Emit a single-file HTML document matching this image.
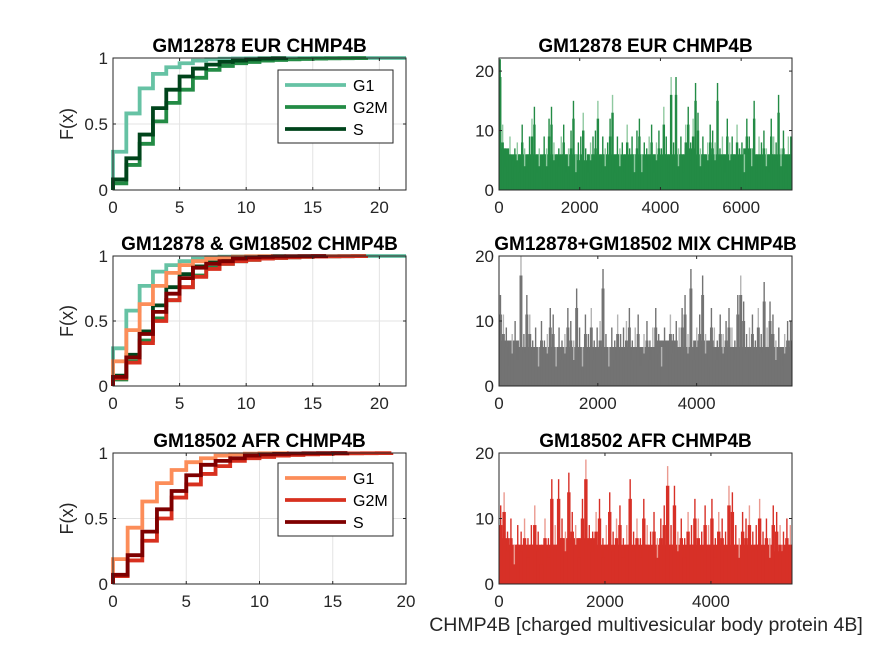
<!DOCTYPE html>
<html><head><meta charset="utf-8"><style>
body{margin:0;background:#fff;}
svg{display:block;font-family:"Liberation Sans",sans-serif;}
.tick{font-size:17px;fill:#262626;}
.ttl{font-size:19px;font-weight:bold;fill:#000;}
</style></head><body>
<svg id="fig" width="875" height="656" viewBox="0 0 875 656" xmlns="http://www.w3.org/2000/svg"></svg>
<script>
// ---- CDF data (F(x) at integer steps x=0,1,2,...) ----
const eurG1 = [0.29,0.58,0.77,0.88,0.93,0.96,0.98,0.99,0.995,0.997,0.998,0.999,0.999,0.999,1,1,1,1,1,1,1,1,1];
const eurG2M = [0.05,0.19,0.35,0.52,0.66,0.76,0.85,0.91,0.94,0.96,0.97,0.98,0.985,0.99,0.993,0.995,0.997,0.998,0.999,1];
const eurS = [0.08,0.24,0.42,0.62,0.76,0.86,0.92,0.95,0.97,0.98,0.99,0.995,0.998,1];
const afrG1 = [0.19,0.43,0.63,0.77,0.87,0.93,0.96,0.98,0.99,0.995,0.998,0.999,1];
const afrG2M = [0.06,0.18,0.33,0.50,0.66,0.76,0.84,0.90,0.94,0.96,0.97,0.98,0.985,0.99,0.993,0.995,0.997,0.998,0.999,1];
const afrS = [0.07,0.22,0.40,0.57,0.71,0.83,0.91,0.94,0.96,0.98,0.99,0.993,0.996,0.998,0.999,0.9995,1];
const legendLabels = ["G1","G2M","S"];
const cdfYTicks = [0,0.5,1];
// ---- histogram data: spike (max) counts per bin ----
const eurHist = [22,11,7,6,9,5,7,8,6,11,7,6,9,12,14,6,7,5,9,7,12,14,8,6,7,9,11,6,7,10,15,6,8,9,13,7,6,8,9,10,15,6,9,7,8,12,16,6,9,7,8,6,11,7,9,6,10,12,6,8,7,9,11,6,8,10,7,14,9,6,19,8,19,7,9,6,11,14,8,12,18,13,7,9,6,8,11,10,8,18,7,9,6,12,8,9,6,11,7,8,6,12,9,7,15,6,9,8,10,7,6,12,9,8,16,7,10,6,9,9];
const mixHist = [14,11,9,6,8,10,7,20,8,14,11,7,9,6,10,7,8,12,11,6,9,7,8,12,10,7,15,9,6,11,8,12,7,9,10,18,8,6,9,7,11,8,9,10,12,7,9,11,6,8,10,7,9,12,8,6,9,7,11,8,10,9,12,14,8,18,7,9,11,17,8,6,12,9,7,11,8,10,12,9,7,14,17,13,8,9,11,7,12,8,16,9,13,11,7,9,6,8,10,10];
const afrHist = [12,14,8,10,6,9,8,10,7,9,12,8,6,10,7,16,9,16,10,8,17,11,9,7,13,19,9,8,11,13,7,9,14,8,10,12,7,9,16,8,10,7,13,9,8,11,7,10,12,18,9,15,8,10,7,11,9,13,10,8,12,9,13,7,11,10,8,15,14,9,7,11,10,12,8,9,13,8,10,7,12,11,9,8,10,9];
// ---- histogram data: typical (dense) count level per coarse bin ----
const eurBase = [7,6,6,6,6,6,6,6,5,6,6,6,6,6,6,6,6,6,6,7,6,6,6,6,6,7,6,6,6,6];
const mixBase = [7,7,6,6,6,6,6,6,6,6,6,6,6,6,6,6,7,7,6,6,7,7,6,6,6,6,6,6,6,6];
const afrBase = [7,6,6,6,6,6,7,7,7,7,6,6,6,6,6,6,6,6,6,6,6,6,6,6,6,6,6,6,5,6];
const histXTicksEur = [0,2000,4000,6000];
const histXTicks = [0,2000,4000];
const histYTicks = [0,10,20];

const NS="http://www.w3.org/2000/svg";
const svg=document.getElementById('fig');
function mk(tag,attrs,parent){const e=document.createElementNS(NS,tag);for(const k in attrs)e.setAttribute(k,attrs[k]);(parent||svg).appendChild(e);return e;}

function axes(o){
  const g=mk('g',{});
  
  
  const sx=v=>o.x0+(v-o.xmin)/(o.xmax-o.xmin)*(o.x1-o.x0);
  const sy=v=>o.y0-(v-o.ymin)/(o.ymax-o.ymin)*(o.y0-o.y1);
  mk('rect',{x:o.x0,y:o.y1,width:o.x1-o.x0,height:o.y0-o.y1,fill:'#fff'},g);
  if(o.grid){
    o.xt.forEach(v=>{const l=mk('line',{x1:sx(v),x2:sx(v),y1:o.y1,y2:o.y0,stroke:'#e3e3e3','stroke-width':1},g);});
    o.yt.forEach(v=>{const l=mk('line',{x1:o.x0,x2:o.x1,y1:sy(v),y2:sy(v),stroke:'#e3e3e3','stroke-width':1},g);});
  }
  return {g,sx,sy};
}
function frame(o,ax){
  const g=ax.g;
  mk('rect',{x:o.x0,y:o.y1,width:o.x1-o.x0,height:o.y0-o.y1,fill:'none',stroke:'#262626','stroke-width':1},g);
  o.xt.forEach(v=>{
    mk('line',{x1:ax.sx(v),x2:ax.sx(v),y1:o.y0,y2:o.y0-3,stroke:'#262626'},g);
    mk('line',{x1:ax.sx(v),x2:ax.sx(v),y1:o.y1,y2:o.y1+3,stroke:'#262626'},g);
    const t=mk('text',{x:ax.sx(v),y:o.y0+23,'text-anchor':'middle',class:'tick'},g);t.textContent=v;
    
  });
  o.yt.forEach(v=>{
    mk('line',{x1:o.x0,x2:o.x0+3,y1:ax.sy(v),y2:ax.sy(v),stroke:'#262626'},g);
    mk('line',{x1:o.x1,x2:o.x1-3,y1:ax.sy(v),y2:ax.sy(v),stroke:'#262626'},g);
    const t=mk('text',{x:o.x0-5,y:ax.sy(v)+6,'text-anchor':'end',class:'tick'},g);t.textContent=v;
    
  });
  const tt=mk('text',{x:(o.x0+o.x1)/2,y:o.y1-6,'text-anchor':'middle',class:'ttl'},g);tt.textContent=o.title;
  
  if(o.ylabel){const yl=mk('text',{x:0,y:0,'text-anchor':'middle',transform:`translate(${o.x0-40},${(o.y0+o.y1)/2}) rotate(-90)`,style:'font-size:18px;fill:#262626'},g);yl.textContent=o.ylabel;
    }
}
function cdfLine(ax,arr,color,xmaxDraw){
  let d=`M${ax.sx(0)},${ax.sy(0)}`;
  for(let i=0;i<arr.length;i++){
    d+=` L${ax.sx(i)},${ax.sy(arr[i])}`;
    const nx=(i+1<arr.length)?i+1:xmaxDraw;
    d+=` L${ax.sx(nx)},${ax.sy(arr[i])}`;
  }
  const p=mk('path',{d:d,fill:'none',stroke:color,'stroke-width':3.8,'stroke-linejoin':'miter'},ax.g);
  
  
}
function legend(ax,x,y,colors){
  const g=mk('g',{},ax.g);
  
  
  mk('rect',{x:x,y:y,width:115,height:73,fill:'#fff',stroke:'#262626','stroke-width':1},g);
  legendLabels.forEach((lab,i)=>{
    const yy=y+15+i*22;
    mk('line',{x1:x+7,x2:x+68,y1:yy,y2:yy,stroke:colors[i],'stroke-width':3.8},g);
    const t=mk('text',{x:x+75,y:yy+6,style:'font-size:16px;fill:#000'},g);t.textContent=lab;
    
  });
}
function hist(ax,o,vals,base,color,light){
  const bw=(o.xmax-o.xmin)/base.length;
  base.forEach((v,i)=>{
    const x0=ax.sx(i*bw),x1=ax.sx((i+1)*bw);
    const r=mk('rect',{x:x0,y:ax.sy(v),width:x1-x0+0.4,height:ax.sy(0)-ax.sy(v),fill:color},ax.g);
    
    
  });
  const w=(o.xmax-o.xmin)/vals.length;
  vals.forEach((v,i)=>{
    const vv=Math.min(v,o.ymax);
    const cx=ax.sx((i+0.5)*w);
    const r=mk('rect',{x:cx-0.7,y:ax.sy(vv),width:1.4,height:ax.sy(0)-ax.sy(vv),fill:(i%3===1?light:color)},ax.g);
    
    
    const half=Math.max(0,vv-3);
    const r2=mk('rect',{x:ax.sx(i*w),y:ax.sy(half),width:ax.sx((i+1)*w)-ax.sx(i*w),height:ax.sy(0)-ax.sy(half),fill:color},ax.g);
    
    
  });
}
const gEur=['#66c2a4','#238b45','#00441b'], gAfr=['#fc8d59','#d7301f','#7f0000'];
// top-left
let o={name:'cdf-eur-panel',x0:113,x1:406,y0:190,y1:58,xmin:0,xmax:22,ymin:0,ymax:1,xt:[0,5,10,15,20],yt:cdfYTicks,grid:true,title:'GM12878 EUR CHMP4B',ylabel:'F(x)'};
let ax=axes(o);
cdfLine(ax,eurG1,gEur[0],22);cdfLine(ax,eurG2M,gEur[1],19);cdfLine(ax,eurS,gEur[2],13);
legend(ax,278,70,gEur);frame(o,ax);
// mid-left
o={name:'cdf-combined-panel',x0:113,x1:406,y0:386,y1:256,xmin:0,xmax:22,ymin:0,ymax:1,xt:[0,5,10,15,20],yt:cdfYTicks,grid:true,title:'GM12878 & GM18502 CHMP4B',ylabel:'F(x)'};
ax=axes(o);
cdfLine(ax,eurG1,gEur[0],22);cdfLine(ax,eurG2M,gEur[1],19);cdfLine(ax,eurS,gEur[2],13);
cdfLine(ax,afrG1,gAfr[0],12);cdfLine(ax,afrG2M,gAfr[1],19);cdfLine(ax,afrS,gAfr[2],16);
frame(o,ax);
// bottom-left
o={name:'cdf-afr-panel',x0:113,x1:406,y0:584,y1:453,xmin:0,xmax:20,ymin:0,ymax:1,xt:[0,5,10,15,20],yt:cdfYTicks,grid:true,title:'GM18502 AFR CHMP4B',ylabel:'F(x)'};
ax=axes(o);
cdfLine(ax,afrG1,gAfr[0],12);cdfLine(ax,afrG2M,gAfr[1],19);cdfLine(ax,afrS,gAfr[2],16);
legend(ax,278,463,gAfr);frame(o,ax);
// top-right
o={name:'hist-eur-panel',x0:499,x1:792,y0:190,y1:58,xmin:0,xmax:7260,ymin:0,ymax:22.2,xt:histXTicksEur,yt:histYTicks,title:'GM12878 EUR CHMP4B'};
ax=axes(o);hist(ax,o,eurHist,eurBase,'#238b45','#8fc9a0');frame(o,ax);
// mid-right
o={name:'hist-mix-panel',x0:499,x1:792,y0:386,y1:256,xmin:0,xmax:5930,ymin:0,ymax:20,xt:histXTicks,yt:histYTicks,title:'GM12878+GM18502 MIX CHMP4B'};
ax=axes(o);hist(ax,o,mixHist,mixBase,'#737373','#b4b4b4');frame(o,ax);
// bottom-right
o={name:'hist-afr-panel',x0:499,x1:792,y0:584,y1:453,xmin:0,xmax:5530,ymin:0,ymax:20,xt:histXTicks,yt:histYTicks,title:'GM18502 AFR CHMP4B'};
ax=axes(o);hist(ax,o,afrHist,afrBase,'#d73027','#eb9a90');frame(o,ax);
const xl=mk('text',{x:646,y:631,'text-anchor':'middle',style:'font-size:19.5px;fill:#262626'});
xl.textContent='CHMP4B [charged multivesicular body protein 4B]';


</script>
</body></html>
